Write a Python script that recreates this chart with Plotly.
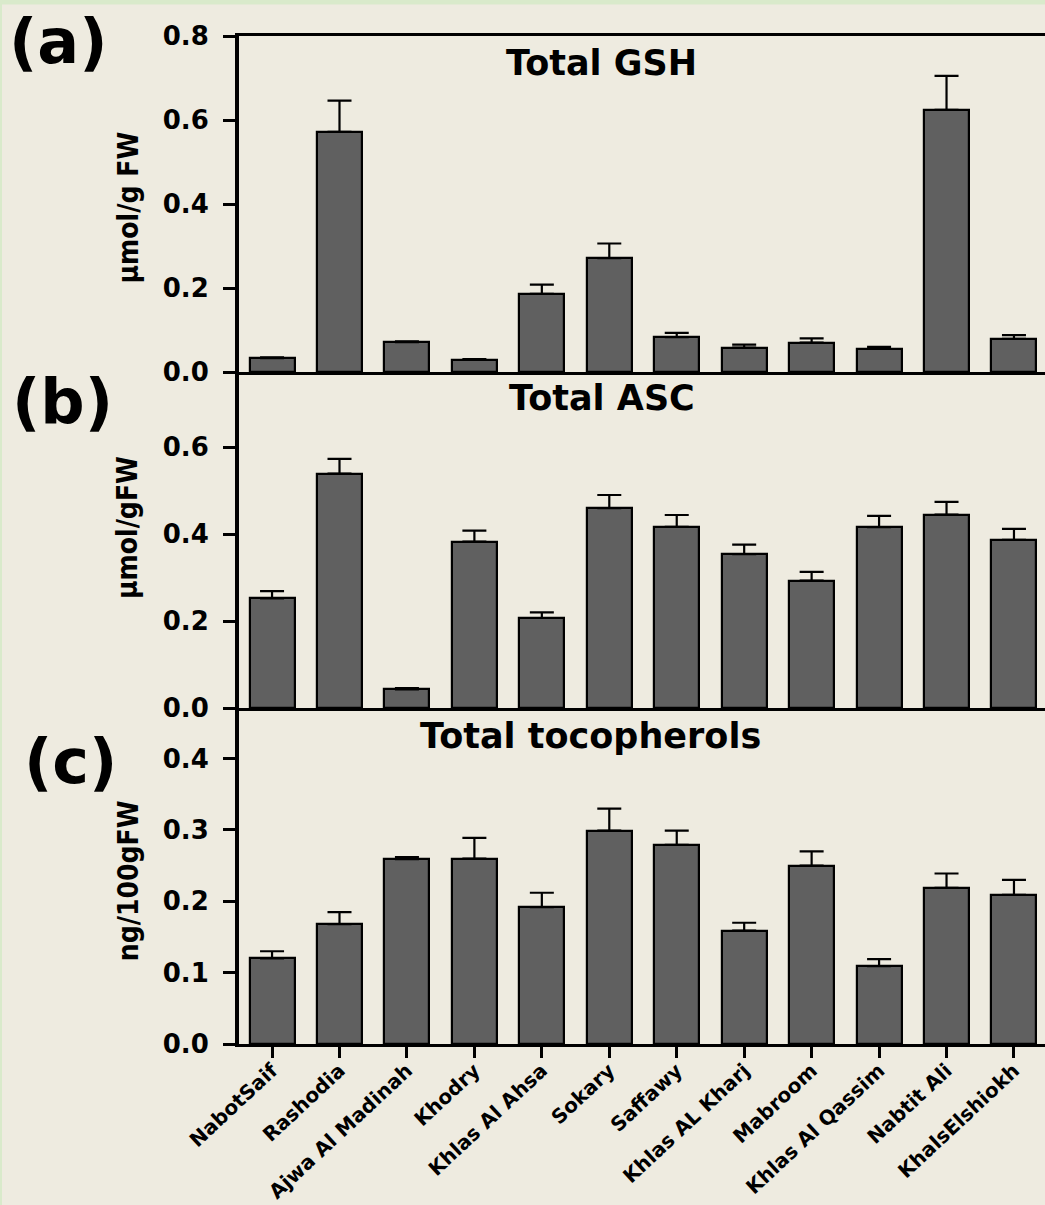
import plotly.graph_objects as go
from plotly.subplots import make_subplots

categories = ["NabotSaif", "Rashodia", "Ajwa Al Madinah", "Khodry", "Khlas Al Ahsa",
              "Sokary", "Saffawy", "Khlas AL Kharj", "Mabroom", "Khlas Al Qassim",
              "Nabtit Ali", "KhalsElshiokh"]

gsh = [0.033, 0.572, 0.071, 0.029, 0.186, 0.271, 0.083, 0.058, 0.070, 0.055, 0.624, 0.079]
gsh_err = [0.002, 0.074, 0.002, 0.002, 0.022, 0.035, 0.010, 0.007, 0.010, 0.005, 0.081, 0.009]

asc = [0.252, 0.539, 0.043, 0.383, 0.207, 0.460, 0.417, 0.354, 0.293, 0.416, 0.445, 0.387]
asc_err = [0.017, 0.034, 0.003, 0.025, 0.013, 0.030, 0.027, 0.022, 0.020, 0.026, 0.029, 0.025]

toc = [0.120, 0.168, 0.259, 0.260, 0.192, 0.299, 0.279, 0.159, 0.250, 0.109, 0.219, 0.209]
toc_err = [0.010, 0.017, 0.003, 0.029, 0.020, 0.031, 0.020, 0.011, 0.020, 0.010, 0.020, 0.021]

panel_titles = ["Total GSH", "Total ASC", "Total tocopherols"]
y_titles = ["µmol/g FW", "µmol/gFW", "ng/100gFW"]
panel_letters = ["(a)", "(b)", "(c)"]

BG = "#EEEBE0"
BAR = "#606060"
WIDE = "DejaVu Sans, Verdana, sans-serif"
NARROW = "Liberation Sans Narrow, Arial Narrow, DejaVu Sans Condensed, sans-serif"

fig = make_subplots(rows=3, cols=1, shared_xaxes=False, vertical_spacing=0)

series = [(gsh, gsh_err), (asc, asc_err), (toc, toc_err)]
for i, (vals, errs) in enumerate(series):
    fig.add_trace(go.Bar(
        x=categories, y=vals, width=0.667,
        marker=dict(color=BAR, line=dict(color="black", width=2.2)),
        error_y=dict(type="data", symmetric=False, array=errs,
                     arrayminus=[0] * len(errs), color="black",
                     thickness=2.2, width=12),
        showlegend=False,
    ), row=i + 1, col=1)

yranges = [[0, 0.8], [0, 0.773], [0, 0.471]]
ytickvals = [[0, 0.2, 0.4, 0.6, 0.8], [0, 0.2, 0.4, 0.6], [0, 0.1, 0.2, 0.3, 0.4]]
for i in range(3):
    fig.update_yaxes(range=yranges[i], tickvals=ytickvals[i],
                     ticktext=[f"{v:.1f}" for v in ytickvals[i]],
                     showline=True, linecolor="black", linewidth=4,
                     ticks="outside", ticklen=12, tickwidth=3, tickcolor="black",
                     ticklabelstandoff=9, automargin=False,
                     tickfont=dict(family=WIDE, size=26, color="black", weight="bold"),
                     showgrid=False, zeroline=False, row=i + 1, col=1)
    fig.update_xaxes(range=[-0.49, 11.46], showline=True, linecolor="black", linewidth=3,
                     showgrid=False, zeroline=False, row=i + 1, col=1,
                     mirror=(i == 0), automargin=False,
                     showticklabels=(i == 2),
                     ticks="outside" if i == 2 else "",
                     ticklen=11, tickwidth=3, tickcolor="black",
                     tickangle=-43,
                     ticklabelstandoff=-7 if i == 2 else 0,
                     tickfont=dict(family=WIDE, size=20, color="black", weight="bold"))

annotations = []
title_pos = [(0.450, 0.973), (0.450, 0.641), (0.4355, 0.3056)]
for (tx, ty), t in zip(title_pos, panel_titles):
    annotations.append(dict(text=t, x=tx, y=ty, xref="paper", yref="paper",
                            showarrow=False, xanchor="center", yanchor="middle",
                            font=dict(family=WIDE, size=35, color="black", weight="bold")))
ytitle_pos = [0.830, 0.512, 0.1617]
for yy, t in zip(ytitle_pos, y_titles):
    annotations.append(dict(text=t, x=-0.1375, y=yy, xref="paper", yref="paper",
                            showarrow=False, textangle=-90, xanchor="center", yanchor="middle",
                            font=dict(family=NARROW, size=28, color="black", weight="bold")))
letter_pos = [(-0.224, 0.995), (-0.219, 0.637), (-0.209, 0.280)]
for (lx, ly), t in zip(letter_pos, panel_letters):
    annotations.append(dict(text=t, x=lx, y=ly, xref="paper", yref="paper",
                            showarrow=False, xanchor="center", yanchor="middle",
                            font=dict(family=WIDE, size=62, color="black", weight="bold")))

fig.update_layout(
    width=1045, height=1205,
    margin=dict(l=239, r=0, t=36, b=161, autoexpand=False),
    paper_bgcolor=BG, plot_bgcolor=BG,
    annotations=annotations,
    bargap=0,
)

# thin light-green frame at the top and left edge of the page
fig.add_shape(type="line", xref="paper", yref="paper",
              x0=(0 - 239) / 806, x1=(1045 - 239) / 806,
              y0=(1044 - 2) / 1008, y1=(1044 - 2) / 1008,
              line=dict(color="#D9EACB", width=5))
fig.add_shape(type="line", xref="paper", yref="paper",
              x0=(1 - 239) / 806, x1=(1 - 239) / 806,
              y0=(1044 - 0) / 1008, y1=(1044 - 1205) / 1008,
              line=dict(color="#D9EACB", width=2))

fig.write_html(
    "out.html",
    config={"displayModeBar": False},
    post_script=(
        "document.documentElement.style.margin='0';"
        "document.documentElement.style.overflow='hidden';"
        "document.body.style.margin='0';document.body.style.padding='0';"
        "document.body.style.overflow='hidden';"
        "document.body.style.background='" + BG + "';"
        "var d=document.getElementsByClassName('plotly-graph-div');"
        "for(var k=0;k<d.length;k++){d[k].style.overflow='hidden';"
        "if(d[k].parentNode){d[k].parentNode.style.overflow='hidden';"
        "d[k].parentNode.style.width='1045px';d[k].parentNode.style.height='1205px';}}"
    ),
)
